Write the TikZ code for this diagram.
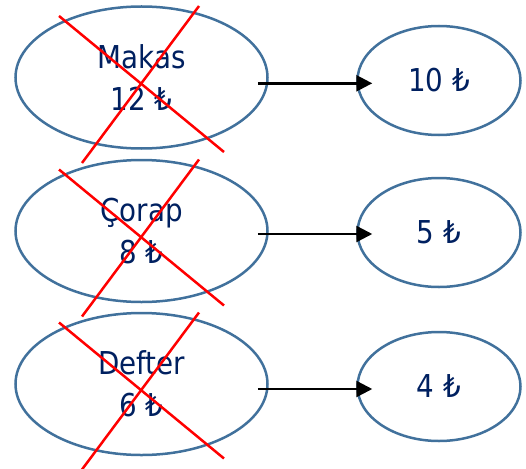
\documentclass[tikz,border=0pt]{standalone}
\usepackage{fontspec}
\setmainfont{DejaVu Sans}[FakeStretch=0.88]
\usetikzlibrary{shapes.geometric,arrows.meta,calc}
\definecolor{navy}{RGB}{0,32,96}
\definecolor{edge}{RGB}{65,113,156}
\tikzset{
  bigell/.style={ellipse,draw=edge,line width=2.5pt,minimum width=252pt,minimum height=142pt,inner sep=0pt,
     text=navy,align=center,font=\fontsize{31.5}{42}\selectfont},
  smallell/.style={ellipse,draw=edge,line width=2.5pt,minimum width=163pt,minimum height=109pt,inner sep=0pt,
     text=navy,align=center,font=\fontsize{31.5}{42}\selectfont},
  cross/.style={red,line width=2.5pt},
  arr/.style={black,line width=2.5pt,-{Triangle[length=16pt,width=16pt]}}
}
\begin{document}
\begin{tikzpicture}[x=1pt,y=-1pt]
\useasboundingbox (0,0) rectangle (526,468);
\node[bigell] (L1) at (141.5,77.5) {Makas\\12 ₺};
\node[bigell] (L2) at (141.5,231) {Çorap\\8 ₺};
\node[bigell] (L3) at (141.5,384) {Defter\\6 ₺};
\node[smallell] (R1) at (439,80.5) {10 ₺};
\node[smallell] (R2) at (439,232.5) {5 ₺};
\node[smallell] (R3) at (439,386.5) {4 ₺};
\foreach \n in {L1,L2,L3}{
  \draw[cross] ($(\n)+(-82.5,-61.5)$) -- ($(\n)+(82.5,74.5)$);
  \draw[cross] ($(\n)+(57.5,-71.5)$) -- ($(\n)+(-59.5,85.5)$);
}
\draw[arr] ([shift={(-11,5.8)}]L1.east) -- ([shift={(16,2.8)}]R1.west);
\draw[arr] ([shift={(-11,3)}]L2.east) -- ([shift={(16,1.5)}]R2.west);
\draw[arr] ([shift={(-11,5)}]L3.east) -- ([shift={(16,2.5)}]R3.west);
\end{tikzpicture}
\end{document}
